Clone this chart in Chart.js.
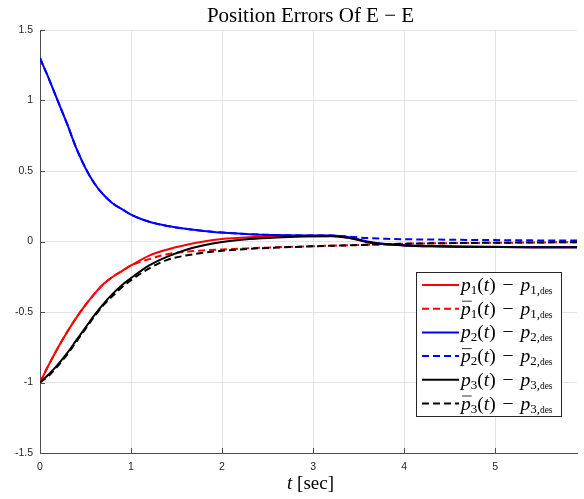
<!DOCTYPE html>
<html>
<head>
<meta charset="utf-8">
<script src="https://cdn.jsdelivr.net/npm/chart.js@4.4.1/dist/chart.umd.min.js"></script>
<style>
    html, body { margin: 0; padding: 0; background: #fff; }
    #wrap { width: 584px; height: 499px; }
</style>
</head>
<body>
<div id="wrap"><canvas id="errChart"></canvas></div>
<script>
// Time samples (sec) and error values
const timeSec = [0, 0.1, 0.2, 0.3, 0.4, 0.5, 0.6, 0.7, 0.8, 0.9, 1.0, 1.2, 1.4, 1.6, 1.8, 2.0, 2.3, 2.6, 2.9, 3.2, 3.4, 3.6, 3.8, 4.0, 4.3, 4.6, 5.0, 5.4, 5.9];

const p1Err = [-1, -0.87, -0.75, -0.64, -0.54, -0.45, -0.37, -0.30, -0.25, -0.21, -0.17, -0.10, -0.057, -0.025, 0.0, 0.017, 0.03, 0.037, 0.04, 0.04, 0.025, -0.005, -0.02, -0.028, -0.034, -0.037, -0.039, -0.04, -0.04];
const p1BarErr = [-1, -0.87, -0.75, -0.64, -0.54, -0.45, -0.37, -0.30, -0.25, -0.21, -0.17, -0.125, -0.09, -0.073, -0.063, -0.056, -0.048, -0.041, -0.035, -0.03, -0.027, -0.023, -0.019, -0.016, -0.013, -0.011, -0.009, -0.007, -0.005];
const p2Err = [1.30, 1.15, 0.99, 0.83, 0.66, 0.52, 0.41, 0.33, 0.27, 0.23, 0.19, 0.14, 0.11, 0.09, 0.075, 0.063, 0.052, 0.046, 0.043, 0.042, 0.03, 0.0, -0.018, -0.026, -0.032, -0.036, -0.038, -0.04, -0.04];
const p2BarErr = [1.30, 1.15, 0.99, 0.83, 0.66, 0.52, 0.41, 0.33, 0.27, 0.23, 0.19, 0.14, 0.11, 0.09, 0.075, 0.063, 0.052, 0.046, 0.043, 0.042, 0.034, 0.024, 0.019, 0.016, 0.014, 0.012, 0.01, 0.008, 0.007];
const p3Err = [-1, -0.94, -0.87, -0.79, -0.70, -0.61, -0.52, -0.44, -0.37, -0.31, -0.26, -0.17, -0.107, -0.06, -0.027, -0.004, 0.017, 0.029, 0.035, 0.037, 0.025, -0.005, -0.02, -0.028, -0.034, -0.037, -0.039, -0.04, -0.04];
const p3BarErr = [-1, -0.95, -0.88, -0.80, -0.71, -0.62, -0.53, -0.45, -0.385, -0.325, -0.275, -0.19, -0.13, -0.1, -0.08, -0.066, -0.052, -0.043, -0.036, -0.03, -0.027, -0.023, -0.019, -0.016, -0.013, -0.011, -0.009, -0.007, -0.005];

const xTicks = [0, 1, 2, 3, 4, 5];
const yTicks = [-1.5, -1, -0.5, 0, 0.5, 1, 1.5];

const seriesValues = [p1Err, p1BarErr, p2Err, p2BarErr, p3Err, p3BarErr];
const seriesIndex = ['1', '1', '2', '2', '3', '3'];
const seriesBarred = [false, true, false, true, false, true];
const seriesColors = ['#ff0000', '#ff0000', '#0000ff', '#0000ff', '#000000', '#000000'];

const chartTitle = 'Position Errors Of E \u2212 E';

const SERIF = '"Liberation Serif", "DejaVu Serif", serif';
const SANS = '"Liberation Sans", Arial, sans-serif';
const DASH = [7, 4];

function toPoints(values) {
    return timeSec.map((t, i) => ({ x: t, y: values[i] }));
}

// MATLAB style ticks point into the plot area
const innerTicks = {
    id: 'innerTicks',
    beforeDatasetsDraw(chart) {
        const { ctx, chartArea, scales } = chart;
        ctx.save();
        ctx.strokeStyle = '#4d4d4d';
        ctx.lineWidth = 1;
        ctx.beginPath();
        yTicks.forEach(v => {
            const y = Math.round(scales.y.getPixelForValue(v)) + 0.5;
            ctx.moveTo(chartArea.left, y);
            ctx.lineTo(chartArea.left + 5, y);
        });
        xTicks.forEach(v => {
            const x = Math.round(scales.x.getPixelForValue(v)) + 0.5;
            ctx.moveTo(x, chartArea.bottom);
            ctx.lineTo(x, chartArea.bottom - 5);
        });
        ctx.stroke();
        ctx.restore();
    }
};

function drawRuns(ctx, x, baseline, runs) {
    runs.forEach(r => {
        ctx.font = r.font;
        ctx.fillText(r.text, x, baseline + (r.dy || 0));
        x += ctx.measureText(r.text).width + (r.gap || 0);
    });
    return x;
}

// Title, x label and legend (subscripts, overbars and mixed fonts)
const mathText = {
    id: 'mathText',
    afterDraw(chart) {
        const { ctx, chartArea } = chart;
        const cx = (chartArea.left + chartArea.right) / 2;
        ctx.save();
        ctx.fillStyle = '#000';
        ctx.textAlign = 'center';
        ctx.font = '21px ' + SERIF;
        ctx.fillText(chartTitle, cx + 2, 21.5);
        ctx.textAlign = 'left';

        const box = { x: 416, y: 272, w: 145, h: 144 };
        ctx.fillStyle = '#fff';
        ctx.fillRect(box.x, box.y, box.w, box.h);
        ctx.strokeStyle = '#262626';
        ctx.lineWidth = 1;
        ctx.strokeRect(box.x + 0.5, box.y + 0.5, box.w, box.h);

        const big = '19.5px ' + SERIF;
        const bigIt = 'italic 19.5px ' + SERIF;
        const sub = '13px ' + SERIF;
        const tiny = '9.5px ' + SERIF;

        seriesValues.forEach((_, i) => {
            const rowY = 285 + i * 23.7;
            ctx.strokeStyle = seriesColors[i];
            ctx.lineWidth = 2;
            ctx.setLineDash(seriesBarred[i] ? DASH : []);
            ctx.beginPath();
            ctx.moveTo(422, rowY);
            ctx.lineTo(459, rowY);
            ctx.stroke();
            ctx.setLineDash([]);

            const tx = 461;
            const base = rowY + 6;
            ctx.fillStyle = '#000';
            const n = seriesIndex[i];
            drawRuns(ctx, tx, base, [
                { text: 'p', font: bigIt },
                { text: n, font: sub, dy: 3 },
                { text: '(', font: big },
                { text: 't', font: bigIt },
                { text: ')', font: big, gap: 2 },
                { text: ' \u2212 ', font: big, gap: 2 },
                { text: 'p', font: bigIt },
                { text: n + ',', font: sub, dy: 3 },
                { text: 'des', font: tiny, dy: 3 }
            ]);
            if (seriesBarred[i]) {
                ctx.font = bigIt;
                const pw = ctx.measureText('p').width;
                ctx.strokeStyle = '#000';
                ctx.lineWidth = 0.8;
                ctx.beginPath();
                ctx.moveTo(tx + 1, base - 13.5);
                ctx.lineTo(tx + pw + 1, base - 13.5);
                ctx.stroke();
            }
        });

        // x axis title: italic t, upright [sec]
        ctx.font = 'italic 19px ' + SERIF;
        const w1 = ctx.measureText('t').width;
        ctx.font = '19px ' + SERIF;
        const w2 = ctx.measureText(' [sec]').width;
        const start = cx + 2 - (w1 + w2) / 2;
        ctx.fillStyle = '#000';
        drawRuns(ctx, start, 489, [
            { text: 't', font: 'italic 19px ' + SERIF },
            { text: ' [sec]', font: '19px ' + SERIF }
        ]);
        ctx.restore();
    }
};

document.addEventListener('DOMContentLoaded', function() {
    const ctx = document.getElementById('errChart').getContext('2d');

    const datasets = seriesValues.map((vals, i) => ({
        label: 'p' + seriesIndex[i] + (seriesBarred[i] ? ' bar' : ''),
        data: toPoints(vals),
        borderColor: seriesColors[i],
        borderWidth: 2,
        borderDash: seriesBarred[i] ? DASH : [],
        pointRadius: 0,
        fill: false,
        cubicInterpolationMode: 'monotone',
        order: 6 - i
    }));

    new Chart(ctx, {
        type: 'line',
        data: { datasets: datasets },
        options: {
            responsive: true,
            maintainAspectRatio: false,
            animation: false,
            layout: { padding: { left: 0, right: 7, top: 30, bottom: 0 } },
            plugins: {
                legend: { display: false },
                tooltip: { enabled: false },
                title: { display: false }
            },
            scales: {
                x: {
                    type: 'linear',
                    min: 0,
                    max: 5.9,
                    afterFit: s => { s.height = 46; },
                    ticks: {
                        stepSize: 1,
                        includeBounds: false,
                        color: '#262626',
                        font: { family: SANS, size: 10.5 },
                        padding: 8,
                        maxRotation: 0
                    },
                    grid: { color: '#e3e3e3', drawTicks: false },
                    border: { color: '#4d4d4d', width: 1 }
                },
                y: {
                    min: -1.5,
                    max: 1.5,
                    afterFit: s => { s.width = 40; },
                    ticks: {
                        stepSize: 0.5,
                        color: '#262626',
                        font: { family: SANS, size: 10.5 },
                        padding: 7,
                        callback: v => String(v)
                    },
                    grid: { color: '#e3e3e3', drawTicks: false },
                    border: { color: '#4d4d4d', width: 1 }
                }
            }
        },
        plugins: [innerTicks, mathText]
    });
});
</script>
</body>
</html>
